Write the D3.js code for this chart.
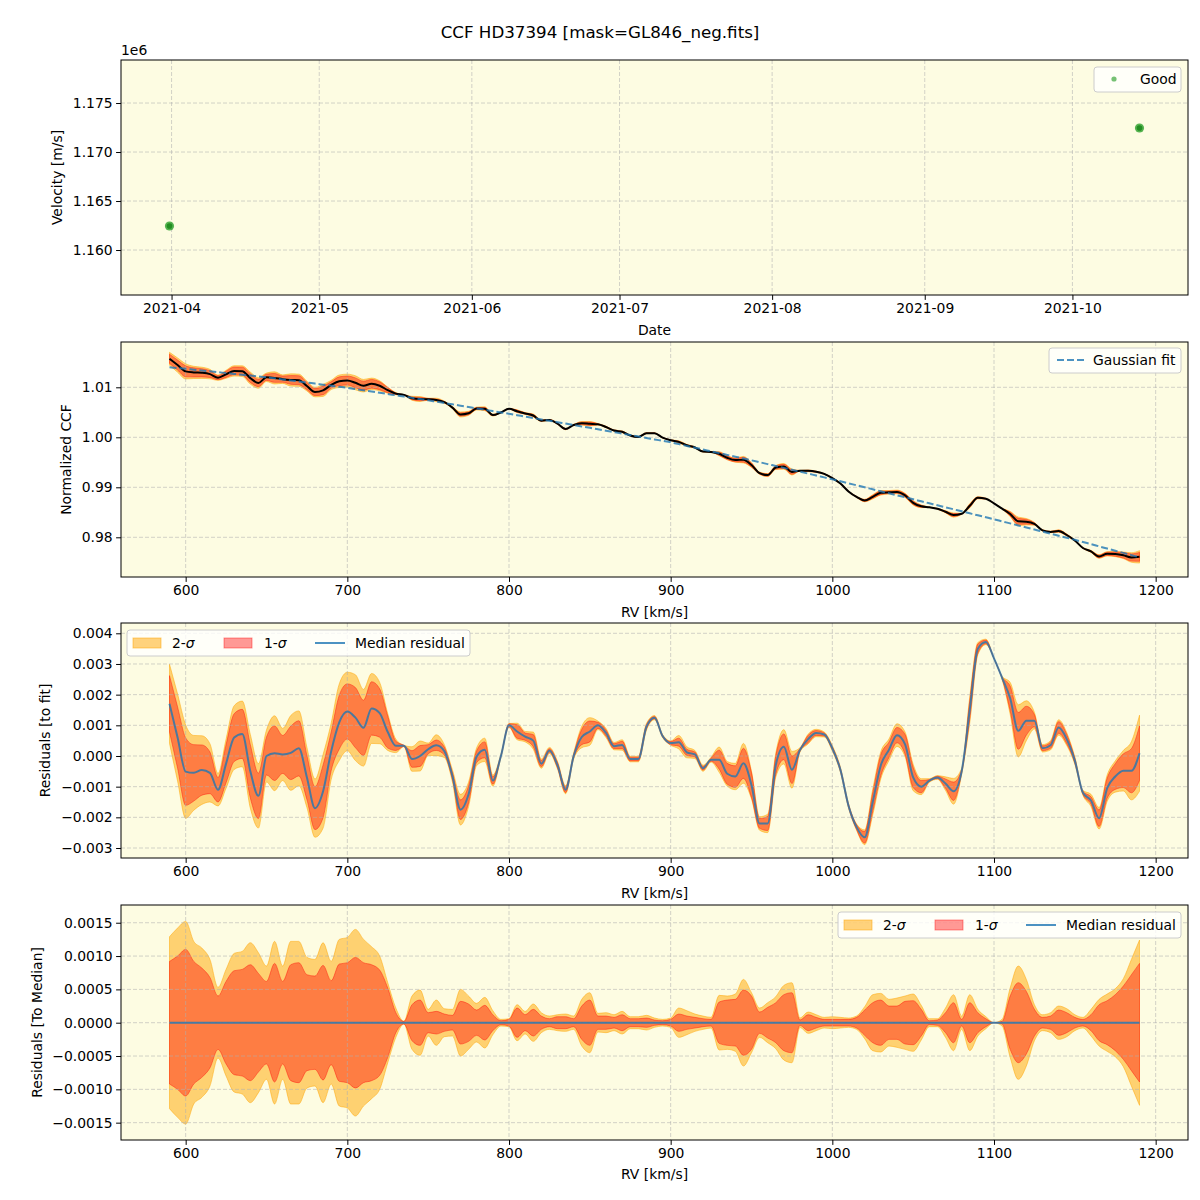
<!DOCTYPE html>
<html lang="en">
<head>
<meta charset="UTF-8">
<title>CCF HD37394</title>
<script src="https://d3js.org/d3.v7.min.js"></script>
<style>
  body { margin: 0; background: white; }
  svg { display: block; font-family: "DejaVu Sans", sans-serif; }
  .grid line { stroke: #b0b0b0; stroke-dasharray: 4,2; stroke-opacity: 0.7; stroke-width: 0.8; }
  .axis text { font-size: 13.9px; font-family: "DejaVu Sans", sans-serif; fill: #000; }
  .axis line { stroke: #000; stroke-width: 1; }
  .lbl { font-size: 13.9px; fill: #000; }
</style>
</head>
<body>
<svg id="chart" width="1200" height="1200"></svg>
<script>
// ---- data ----
const obsDates = ["2021-03-31T14:00Z", "2021-10-14T15:00Z"];
const obsVel = [1162450, 1172450];

const rv = d3.range(590, 1191, 5); // km/s

// Gaussian fit of the CCF
const fitCcf = [
  1.01400, 1.01385, 1.01370, 1.01353, 1.01336, 1.01319, 1.01302, 1.01285, 1.01268, 1.01251,
  1.01234, 1.01217, 1.01200, 1.01179, 1.01158, 1.01137, 1.01116, 1.01095, 1.01074, 1.01053,
  1.01032, 1.01011, 1.00990, 1.00965, 1.00940, 1.00915, 1.00890, 1.00865, 1.00840, 1.00815,
  1.00790, 1.00765, 1.00740, 1.00713, 1.00686, 1.00659, 1.00632, 1.00605, 1.00578, 1.00551,
  1.00524, 1.00497, 1.00470, 1.00442, 1.00414, 1.00386, 1.00358, 1.00330, 1.00302, 1.00274,
  1.00246, 1.00218, 1.00190, 1.00161, 1.00132, 1.00103, 1.00074, 1.00045, 1.00016, 0.99987,
  0.99958, 0.99929, 0.99900, 0.99864, 0.99828, 0.99792, 0.99756, 0.99720, 0.99684, 0.99648,
  0.99612, 0.99576, 0.99540, 0.99502, 0.99464, 0.99426, 0.99388, 0.99350, 0.99312, 0.99274,
  0.99236, 0.99198, 0.99160, 0.99120, 0.99080, 0.99040, 0.99000, 0.98960, 0.98920, 0.98880,
  0.98840, 0.98800, 0.98760, 0.98720, 0.98680, 0.98640, 0.98600, 0.98560, 0.98520, 0.98480,
  0.98440, 0.98400, 0.98360, 0.98319, 0.98278, 0.98237, 0.98196, 0.98155, 0.98114, 0.98073,
  0.98032, 0.97991, 0.97950, 0.97906, 0.97863, 0.97819, 0.97775, 0.97731, 0.97688, 0.97644,
  0.97600
];

// median residual to fit, in units of 1e-3
const medRes = [
  1.70, 0.60, -0.51, -0.55, -0.46, -0.55, -1.10, -0.25, 0.60, 0.72,
  -0.50, -1.30, 0.00, 0.09, 0.05, 0.10, 0.25, -0.70, -1.70, -1.15,
  0.15, 1.10, 1.45, 1.25, 0.92, 1.55, 1.40, 0.78, 0.33, 0.33,
  -0.10, 0.00, 0.22, 0.35, 0.16, -0.65, -1.75, -1.25, -0.02, 0.20,
  -0.80, 0.00, 1.00, 0.80, 0.63, 0.50, -0.25, 0.18, -0.30, -1.10,
  0.00, 0.62, 0.80, 1.00, 0.75, 0.32, 0.36, -0.10, -0.10, 0.95,
  1.25, 0.65, 0.42, 0.45, 0.12, 0.05, -0.40, -0.12, -0.12, -0.58,
  -0.67, -0.24, -0.95, -2.20, -2.20, -0.30, 0.30, -0.45, 0.20, 0.55,
  0.75, 0.70, 0.25, -0.45, -1.62, -2.32, -2.65, -1.50, -0.30, 0.20,
  0.68, 0.38, -0.70, -1.00, -0.80, -0.70, -0.90, -1.15, -0.50, 1.50,
  3.50, 3.72, 3.18, 2.55, 1.88, 0.82, 1.15, 1.15, 0.25, 0.35,
  0.93, 0.55, -0.15, -1.20, -1.45, -2.03, -1.05, -0.67, -0.48, -0.48,
  0.09
];

// 1-sigma half width around the median, units of 1e-3
const sig1 = [
  0.92, 1.00, 1.10, 0.92, 0.82, 0.68, 0.40, 0.62, 0.78, 0.80,
  0.87, 0.74, 0.62, 0.89, 0.62, 0.87, 0.90, 0.72, 0.70, 0.86,
  0.63, 0.88, 0.90, 0.98, 0.90, 0.87, 0.79, 0.52, 0.15, 0.02,
  0.27, 0.34, 0.15, 0.17, 0.13, 0.11, 0.32, 0.28, 0.19, 0.26,
  0.12, 0.03, 0.05, 0.22, 0.12, 0.20, 0.10, 0.06, 0.09, 0.09,
  0.06, 0.25, 0.34, 0.10, 0.10, 0.08, 0.12, 0.06, 0.06, 0.07,
  0.04, 0.03, 0.05, 0.13, 0.10, 0.08, 0.06, 0.05, 0.31, 0.34,
  0.35, 0.49, 0.40, 0.16, 0.23, 0.30, 0.42, 0.45, 0.04, 0.12,
  0.08, 0.05, 0.05, 0.05, 0.05, 0.08, 0.19, 0.30, 0.34, 0.25,
  0.25, 0.32, 0.33, 0.20, 0.03, 0.04, 0.15, 0.30, 0.05, 0.30,
  0.15, 0.06, 0.00, 0.02, 0.40, 0.60, 0.47, 0.20, 0.08, 0.10,
  0.19, 0.15, 0.08, 0.05, 0.12, 0.27, 0.33, 0.42, 0.55, 0.72,
  0.89
];

// 2-sigma half width around the median, units of 1e-3
const sig2 = [
  1.29, 1.42, 1.52, 1.22, 1.12, 0.95, 0.53, 0.80, 1.04, 1.07,
  1.20, 1.05, 0.85, 1.22, 0.85, 1.22, 1.22, 0.98, 0.95, 1.20,
  0.92, 1.25, 1.28, 1.40, 1.25, 1.14, 1.00, 0.60, 0.22, 0.02,
  0.40, 0.49, 0.20, 0.34, 0.21, 0.20, 0.50, 0.40, 0.29, 0.38,
  0.18, 0.05, 0.06, 0.27, 0.17, 0.28, 0.15, 0.10, 0.12, 0.13,
  0.10, 0.35, 0.45, 0.14, 0.15, 0.12, 0.17, 0.09, 0.09, 0.11,
  0.07, 0.05, 0.07, 0.22, 0.18, 0.13, 0.10, 0.08, 0.41, 0.40,
  0.43, 0.65, 0.45, 0.22, 0.30, 0.39, 0.56, 0.60, 0.07, 0.16,
  0.12, 0.08, 0.09, 0.08, 0.07, 0.10, 0.24, 0.42, 0.44, 0.35,
  0.37, 0.40, 0.43, 0.26, 0.06, 0.06, 0.22, 0.42, 0.10, 0.42,
  0.20, 0.09, 0.00, 0.05, 0.52, 0.85, 0.65, 0.27, 0.12, 0.15,
  0.25, 0.21, 0.12, 0.08, 0.20, 0.35, 0.43, 0.51, 0.66, 0.95,
  1.24
];

const rvTicks = [600, 700, 800, 900, 1000, 1100, 1200];
const velTicks = [1160000, 1165000, 1170000, 1175000];
const ccfTicks = [0.98, 0.99, 1.00, 1.01];
const resTicks = [-0.003, -0.002, -0.001, 0, 0.001, 0.002, 0.003, 0.004];
const medTicks = [-0.0015, -0.001, -0.0005, 0, 0.0005, 0.001, 0.0015];

// ---- layout ----
const svg = d3.select("#chart");
const left = 121, right = 1188, ph = 235;
const tops = [60, 342, 623, 905];
const bgColor = "#fdfce2";
const c2 = "orange", c1 = "red", cMed = "#1f77b4";

const idx = d3.range(rv.length);
const med = idx.map(i => medRes[i] * 1e-3);
const s1 = idx.map(i => sig1[i] * 1e-3);
const s2 = idx.map(i => sig2[i] * 1e-3);
const ccf = idx.map(i => fitCcf[i] + med[i]);

const x = d3.scaleLinear().domain([560, 1220]).range([left, right]);

function bg(top) {
  svg.append("rect").attr("x", left).attr("y", top)
    .attr("width", right - left).attr("height", ph).attr("fill", bgColor);
}

function grid(top, xs, xt, ys, yt) {
  const g = svg.append("g").attr("class", "grid");
  g.append("g").selectAll("line").data(xt).join("line")
    .attr("x1", d => xs(d)).attr("x2", d => xs(d))
    .attr("y1", top).attr("y2", top + ph);
  g.append("g").selectAll("line").data(yt).join("line")
    .attr("x1", left).attr("x2", right)
    .attr("y1", d => ys(d)).attr("y2", d => ys(d));
}

function frame(top, xs, xt, xf, ys, yt, yf) {
  svg.append("rect").attr("x", left).attr("y", top)
    .attr("width", right - left).attr("height", ph)
    .attr("fill", "none").attr("stroke", "#000").attr("stroke-width", 1);
  svg.append("g").attr("class", "axis")
    .attr("transform", `translate(0,${top + ph})`)
    .call(d3.axisBottom(xs).tickValues(xt).tickFormat(xf)
      .tickSize(4.9).tickPadding(3.5).tickSizeOuter(0))
    .call(g => g.select(".domain").remove())
    .attr("font-size", null).attr("font-family", null);
  svg.append("g").attr("class", "axis")
    .attr("transform", `translate(${left},0)`)
    .call(d3.axisLeft(ys).tickValues(yt).tickFormat(yf)
      .tickSize(4.9).tickPadding(3.5).tickSizeOuter(0))
    .call(g => g.select(".domain").remove())
    .attr("font-size", null).attr("font-family", null);
}

function ylabel(text, cx, top) {
  svg.append("text").attr("class", "lbl")
    .attr("transform", `translate(${cx},${top + ph / 2}) rotate(-90)`)
    .attr("text-anchor", "middle").attr("dominant-baseline", "central")
    .text(text);
}

function xlabel(text, cy) {
  svg.append("text").attr("class", "lbl")
    .attr("x", (left + right) / 2).attr("y", cy)
    .attr("text-anchor", "middle").attr("dominant-baseline", "central")
    .text(text);
}

function band(ys, lo, hi, color, op) {
  const area = d3.area()
    .x(i => x(rv[i])).y0(i => ys(lo(i))).y1(i => ys(hi(i)))
    .curve(d3.curveMonotoneX);
  svg.append("path").datum(idx).attr("d", area)
    .attr("fill", color).attr("fill-opacity", op)
    .attr("stroke", color).attr("stroke-opacity", op).attr("stroke-width", 1);
}

function line(ys, yv, color, width, op, dash) {
  const l = d3.line().x(i => x(rv[i])).y(i => ys(yv(i))).curve(d3.curveMonotoneX);
  svg.append("path").datum(idx).attr("d", l)
    .attr("fill", "none").attr("stroke", color).attr("stroke-width", width)
    .attr("stroke-opacity", op).attr("stroke-dasharray", dash || null);
}

function legendBox(x0, y0, w, h) {
  const g = svg.append("g").attr("transform", `translate(${x0},${y0})`);
  g.append("rect").attr("width", w).attr("height", h).attr("rx", 3)
    .attr("fill", "white").attr("fill-opacity", 0.8)
    .attr("stroke", "#cccccc").attr("stroke-width", 1);
  return g;
}

function sigmaLegend(x0, y0) {
  const g = legendBox(x0, y0, 343, 26);
  const items = [
    { px: 6, tx: 45, color: c2, op: 0.5, n: "2" },
    { px: 97, tx: 137, color: c1, op: 0.4, n: "1" }
  ];
  items.forEach(it => {
    g.append("rect").attr("x", it.px).attr("y", 8).attr("width", 28).attr("height", 10)
      .attr("fill", it.color).attr("fill-opacity", it.op)
      .attr("stroke", it.color).attr("stroke-opacity", it.op);
    const t = g.append("text").attr("class", "lbl").attr("x", it.tx).attr("y", 18);
    t.append("tspan").text(it.n + "-");
    t.append("tspan").attr("font-style", "italic").text("σ");
  });
  g.append("line").attr("x1", 188).attr("x2", 218).attr("y1", 13).attr("y2", 13)
    .attr("stroke", cMed).attr("stroke-width", 2).attr("stroke-opacity", 0.8);
  g.append("text").attr("class", "lbl").attr("x", 228).attr("y", 18).text("Median residual");
}

// ---- title ----
svg.append("text").attr("x", 600).attr("y", 38).attr("text-anchor", "middle")
  .attr("font-size", 16.7).text("CCF HD37394 [mask=GL846_neg.fits]");

// ---- panel 1: velocity vs date ----
{
  const top = tops[0];
  const times = obsDates.map(d => new Date(d));
  const t0 = d3.min(times), t1 = d3.max(times), pad = (t1 - t0) * 0.05;
  const xt = d3.scaleUtc().domain([new Date(+t0 - pad), new Date(+t1 + pad)]).range([left, right]);
  const y = d3.scaleLinear().domain([1155410, 1179390]).range([top + ph, top]);
  const months = xt.ticks(d3.utcMonth.every(1));
  const pts = idx.slice(0, obsVel.length);
  bg(top);
  grid(top, xt, months, y, velTicks);
  svg.append("g").selectAll("circle").data(pts).join("circle")
    .attr("cx", i => xt(times[i])).attr("cy", i => y(obsVel[i])).attr("r", 4.6)
    .attr("fill", "#2ca02c").attr("fill-opacity", 0.8);
  svg.append("g").selectAll("circle").data(pts).join("circle")
    .attr("cx", i => xt(times[i])).attr("cy", i => y(obsVel[i])).attr("r", 2.8)
    .attr("fill", "#1a871a").attr("fill-opacity", 0.85);
  frame(top, xt, months, d3.utcFormat("%Y-%m"), y, velTicks, d => (d / 1e6).toFixed(3));
  svg.append("text").attr("class", "lbl").attr("x", left).attr("y", top - 5).text("1e6");
  ylabel("Velocity [m/s]", 57, top);
  xlabel("Date", 330);
  const lg = legendBox(1094, 67, 87, 25);
  lg.append("circle").attr("cx", 20).attr("cy", 12).attr("r", 2.6)
    .attr("fill", "#2ca02c").attr("fill-opacity", 0.65);
  lg.append("text").attr("class", "lbl").attr("x", 46).attr("y", 17).text("Good");
}

// ---- panel 2: normalized CCF ----
{
  const top = tops[1];
  const y = d3.scaleLinear().domain([0.97206, 1.01906]).range([top + ph, top]);
  bg(top);
  band(y, i => ccf[i] - s2[i], i => ccf[i] + s2[i], c2, 0.5);
  band(y, i => ccf[i] - s1[i], i => ccf[i] + s1[i], c1, 0.4);
  grid(top, x, rvTicks, y, ccfTicks);
  line(y, i => ccf[i], "#000", 2, 1);
  line(y, i => fitCcf[i], cMed, 2, 0.8, "7,3");
  frame(top, x, rvTicks, d3.format("d"), y, ccfTicks, d3.format(".2f"));
  ylabel("Normalized CCF", 66, top);
  xlabel("RV [km/s]", 612);
  const lg = legendBox(1049, 348, 132, 25);
  lg.append("line").attr("x1", 8).attr("x2", 36).attr("y1", 12).attr("y2", 12)
    .attr("stroke", cMed).attr("stroke-width", 2).attr("stroke-opacity", 0.8)
    .attr("stroke-dasharray", "7,3");
  lg.append("text").attr("class", "lbl").attr("x", 44).attr("y", 17).text("Gaussian fit");
}

// ---- panel 3: residuals to fit ----
{
  const top = tops[2];
  const y = d3.scaleLinear().domain([-0.003326, 0.004336]).range([top + ph, top]);
  bg(top);
  band(y, i => med[i] - s2[i], i => med[i] + s2[i], c2, 0.5);
  band(y, i => med[i] - s1[i], i => med[i] + s1[i], c1, 0.4);
  grid(top, x, rvTicks, y, resTicks);
  line(y, i => med[i], cMed, 2, 0.8);
  frame(top, x, rvTicks, d3.format("d"), y, resTicks, d3.format(".3f"));
  ylabel("Residuals [to fit]", 45, top);
  xlabel("RV [km/s]", 893);
  sigmaLegend(127, 630);
}

// ---- panel 4: residuals to median ----
{
  const top = tops[3];
  const y = d3.scaleLinear().domain([-0.00176, 0.001766]).range([top + ph, top]);
  bg(top);
  band(y, i => -s2[i], i => s2[i], c2, 0.5);
  band(y, i => -s1[i], i => s1[i], c1, 0.4);
  grid(top, x, rvTicks, y, medTicks);
  line(y, i => med[i] - med[i], cMed, 2, 0.8);
  frame(top, x, rvTicks, d3.format("d"), y, medTicks, d3.format(".4f"));
  ylabel("Residuals [To Median]", 37, top);
  xlabel("RV [km/s]", 1174);
  sigmaLegend(838, 912);
}
</script>
</body>
</html>
